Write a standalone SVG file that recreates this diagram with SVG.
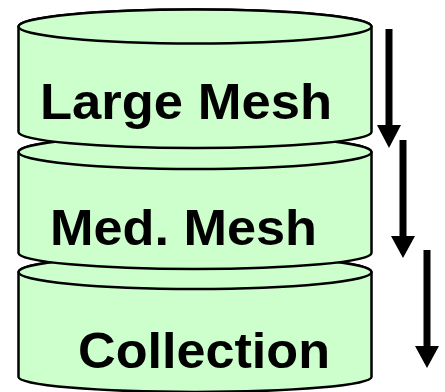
<svg xmlns="http://www.w3.org/2000/svg" width="445" height="392" viewBox="0 0 445 392">
<style>
.body{fill:#CCFFCC;stroke:#000;stroke-width:2.5;stroke-linejoin:round}
.lbl{font-family:"Liberation Sans",Arial,sans-serif;font-weight:bold;font-size:50px;fill:#000}
.shaft{stroke:#000;stroke-width:7}
.head{fill:#000}
</style>
<rect width="445" height="392" fill="#fff"/>
<g id="collection">
<path class="body" d="M18.5 272 L18.5 377 A176.5 15 0 0 0 371.5 377 L371.5 272 A176.5 17 0 0 0 18.5 272 Z"/>
<ellipse class="body" cx="195" cy="272" rx="176.5" ry="17"/>
<text class="lbl" x="78" y="368" textLength="252" lengthAdjust="spacingAndGlyphs">Collection</text>
</g>
<g id="med-mesh">
<path class="body" d="M18.5 152 L18.5 253 A176.5 16 0 0 0 371.5 253 L371.5 152 A176.5 17 0 0 0 18.5 152 Z"/>
<ellipse class="body" cx="195" cy="152" rx="176.5" ry="17"/>
<text class="lbl" x="50" y="245" textLength="267" lengthAdjust="spacingAndGlyphs">Med. Mesh</text>
</g>
<g id="large-mesh">
<path class="body" d="M18.5 26.5 L18.5 132 A176.5 16 0 0 0 371.5 132 L371.5 26.5 A176.5 17 0 0 0 18.5 26.5 Z"/>
<ellipse class="body" cx="195" cy="26.5" rx="176.5" ry="17"/>
<text class="lbl" x="40" y="119" textLength="292" lengthAdjust="spacingAndGlyphs">Large Mesh</text>
</g>
<g id="connectors">
<line class="shaft" x1="389" y1="29" x2="389" y2="126"/>
<polygon class="head" points="377,125 401,125 389,148"/>
<line class="shaft" x1="403" y1="140" x2="403" y2="237"/>
<polygon class="head" points="391,236 415,236 403,258"/>
<line class="shaft" x1="427" y1="250" x2="427" y2="347"/>
<polygon class="head" points="415,346 439,346 427,368"/>
</g>
</svg>
